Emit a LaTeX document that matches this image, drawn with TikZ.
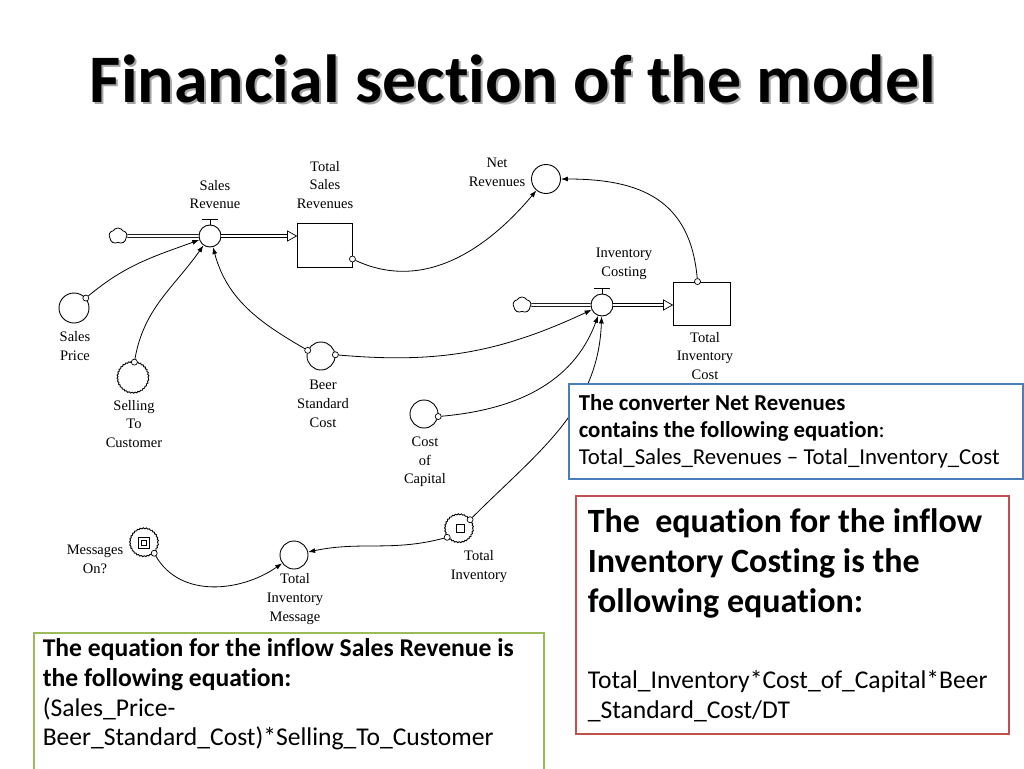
\documentclass[tikz,border=0pt]{standalone}
\usepackage{fontspec}
\setmainfont{Liberation Serif}
\newfontfamily\slidefont[Ligatures=NoCommon]{Carlito}
\usetikzlibrary{positioning, arrows.meta, shapes.symbols, decorations.pathmorphing}
\definecolor{NoteBlue}{RGB}{74,126,187}
\definecolor{NoteRed}{RGB}{192,80,77}
\definecolor{NoteGreen}{RGB}{155,187,89}
\definecolor{TitleShadow}{RGB}{165,165,165}
\tikzset{
  converter/.style={circle, draw, line width=0.9pt, minimum size=28pt, inner sep=0pt},
  ghost/.style={converter, decorate, decoration={snake, amplitude=0.5pt, segment length=3pt}},
  valve/.style={circle, draw, line width=0.9pt, minimum size=22pt, inner sep=0pt},
  stock/.style={rectangle, draw, line width=0.9pt, inner sep=0pt},
  source/.style={cloud, cloud puffs=5, cloud puff arc=120, draw, line width=0.8pt, minimum width=18pt, minimum height=16pt, inner sep=0pt},
  tapdot/.style={circle, draw, line width=0.7pt, fill=white, minimum size=6pt, inner sep=0pt},
  link/.style={line width=0.8pt, -{Latex[length=7pt, width=5pt]}},
  pipe/.style={double, double distance=2.4pt, line width=0.7pt},
  varname/.style={align=center, inner sep=0pt, font=\fontsize{14.5}{18.7}\selectfont},
  note/.style={draw, fill=white, line width=1.6pt, anchor=north west, align=flush left, inner ysep=8pt}
}
\begin{document}
\begin{tikzpicture}[x=1pt, y=1pt]
  \path[use as bounding box, fill=white] (0,0) rectangle (1024,-768);

  % Title
  \node[anchor=base, TitleShadow, font=\slidefont\bfseries\fontsize{68}{68}\selectfont] (title-sh) at (515,-104) {Financial section of the model};
  \node[anchor=base, font=\slidefont\bfseries\fontsize{68}{68}\selectfont] (title) at (513,-102) {Financial section of the model};

  % Sales revenue flow
  \node[source] (src1) at (118,-236) {};
  \node[valve] (sr) at (210,-236) {};
  \node[stock, minimum width=55pt, minimum height=44pt] (tsr) at (324.5,-245) {};
  \coordinate (tsr-in) at (tsr.west |- sr.east);
  \draw[pipe] (src1) -- (sr);
  \draw[pipe] (sr) -- ([xshift=-8pt]tsr-in);
  \draw[line width=0.7pt, fill=white] (tsr-in) -- ++(-9,5) -- ++(0,-10) -- cycle;
  \draw[line width=0.9pt] (sr.north) -- ++(0,5) ++(-8,0) -- ++(16,0);

  % Inventory costing flow
  \node[source] (src2) at (522,-305) {};
  \node[valve] (ic) at (602,-305) {};
  \node[stock, minimum width=57pt, minimum height=43pt] (tic) at (701.5,-303.5) {};
  \coordinate (tic-in) at (tic.west |- ic.east);
  \draw[pipe] (src2) -- (ic);
  \draw[pipe] (ic) -- ([xshift=-8pt]tic-in);
  \draw[line width=0.7pt, fill=white] (tic-in) -- ++(-9,5) -- ++(0,-10) -- cycle;
  \draw[line width=0.9pt] (ic.north) -- ++(0,5) ++(-8,0) -- ++(16,0);

  % Converters
  \node[converter, minimum size=30pt] (sp) at (74,-308) {};
  \node[ghost, minimum size=31pt] (stc) at (133,-378) {};
  \node[converter] (bsc) at (321,-356) {};
  \node[converter, minimum size=29pt] (nr) at (546,-179) {};
  \node[converter] (coc) at (424,-414) {};
  \node[ghost] (ti) at (459,-529) {};
  \node[converter] (tim) at (294,-555) {};
  \node[ghost] (mo) at (144,-543) {};
  \draw[line width=0.6pt] (ti.center) ++(-3,-3) rectangle ++(8,8);
  \draw[line width=0.8pt] (mo.center) ++(-5.5,-5.5) rectangle ++(11,11);
  \draw[line width=1.4pt] (mo.center) ++(-2.5,-2.5) rectangle ++(5,5);

  % Connector taps
  \node[tapdot] (sp-t) at (sp.40) {};
  \node[tapdot] (stc-t) at (stc.85) {};
  \node[tapdot] (bsc-t1) at (bsc.157) {};
  \node[tapdot] (bsc-t2) at (bsc.5) {};
  \node[tapdot] (tsr-t) at ([yshift=-14pt]tsr.east) {};
  \node[tapdot] (tic-t) at ([xshift=-4pt]tic.north) {};
  \node[tapdot] (coc-t) at (coc.-10) {};
  \node[tapdot] (ti-t1) at (ti.40) {};
  \node[tapdot] (ti-t2) at (ti.215) {};
  \node[tapdot] (mo-t) at (mo.-45) {};

  % Connectors
  \draw[link] (sp-t) to[out=40, in=200] (sr);
  \draw[link] (stc-t) to[out=80, in=235] (sr);
  \draw[link] (bsc-t1) to[out=150, in=285] (sr);
  \draw[link] (bsc-t2) to[out=-5, in=205] (ic);
  \draw[link] (tsr-t) to[out=-25, in=230] (nr);
  \draw[link] (tic-t) to[out=95, in=0, looseness=1.2] (nr);
  \draw[link] (coc-t) to[out=5, in=250] (ic);
  \draw[link] (ti-t1) to[out=45, in=268] (ic);
  \draw[link] (ti-t2) to[out=195, in=12] (tim);
  \draw[link] (mo-t) to[out=-60, in=215] (tim);

  % Variable names
  \node[varname] (sr-lbl) at (215,-194.5) {Sales\\Revenue};
  \node[varname] (tsr-lbl) at (325,-185) {Total\\Sales\\Revenues};
  \node[varname] (nr-lbl) at (497,-172.5) {Net\\Revenues};
  \node[varname] (ic-lbl) at (624,-264) {Inventory\\Costing};
  \node[varname] (tic-lbl) at (705,-356) {Total\\Inventory\\Cost};
  \node[varname] (sp-lbl) at (75,-346) {Sales\\Price};
  \node[varname] (stc-lbl) at (134,-424) {Selling\\To\\Customer};
  \node[varname] (bsc-lbl) at (323,-404) {Beer\\Standard\\Cost};
  \node[varname] (coc-lbl) at (425,-462) {Cost\\of\\Capital};
  \node[varname] (ti-lbl) at (479,-566.5) {Total\\Inventory};
  \node[varname] (mo-lbl) at (95,-559.5) {Messages\\On?};
  \node[varname] (tim-lbl) at (295,-599) {Total\\Inventory\\Message};

  % Equation notes
  \node[note, draw=NoteBlue, text width=434pt, inner xsep=10pt, minimum height=95pt,
        font=\slidefont\fontsize{22.8}{27}\selectfont] (nr-eq) at (568,-383)
    {\textbf{The converter Net Revenues}\\\textbf{contains the following equation}:\\Total\_Sales\_Revenues \textendash{} Total\_Inventory\_Cost};
  \node[note, draw=NoteRed, text width=409pt, inner xsep=12pt, minimum height=238pt,
        font=\slidefont] (ic-eq) at (575,-495)
    {{\fontsize{34}{40}\selectfont\bfseries The\ \ equation for the inflow\\Inventory Costing is the\\following equation:\par}
     \vspace{46pt}
     {\fontsize{25.6}{30}\selectfont Total\_Inventory*Cost\_of\_Capital*Beer\\\_Standard\_Cost/DT\par}};
  \node[note, draw=NoteGreen, text width=492pt, inner xsep=9pt, inner ysep=6pt,
        font=\slidefont\fontsize{25.6}{29.7}\selectfont] (sr-eq) at (33,-632)
    {\textbf{The equation for the inflow Sales Revenue is}\\\textbf{the following equation:}\\(Sales\_Price-\\Beer\_Standard\_Cost)*Selling\_To\_Customer\\\mbox{}};
\end{tikzpicture}
\end{document}
